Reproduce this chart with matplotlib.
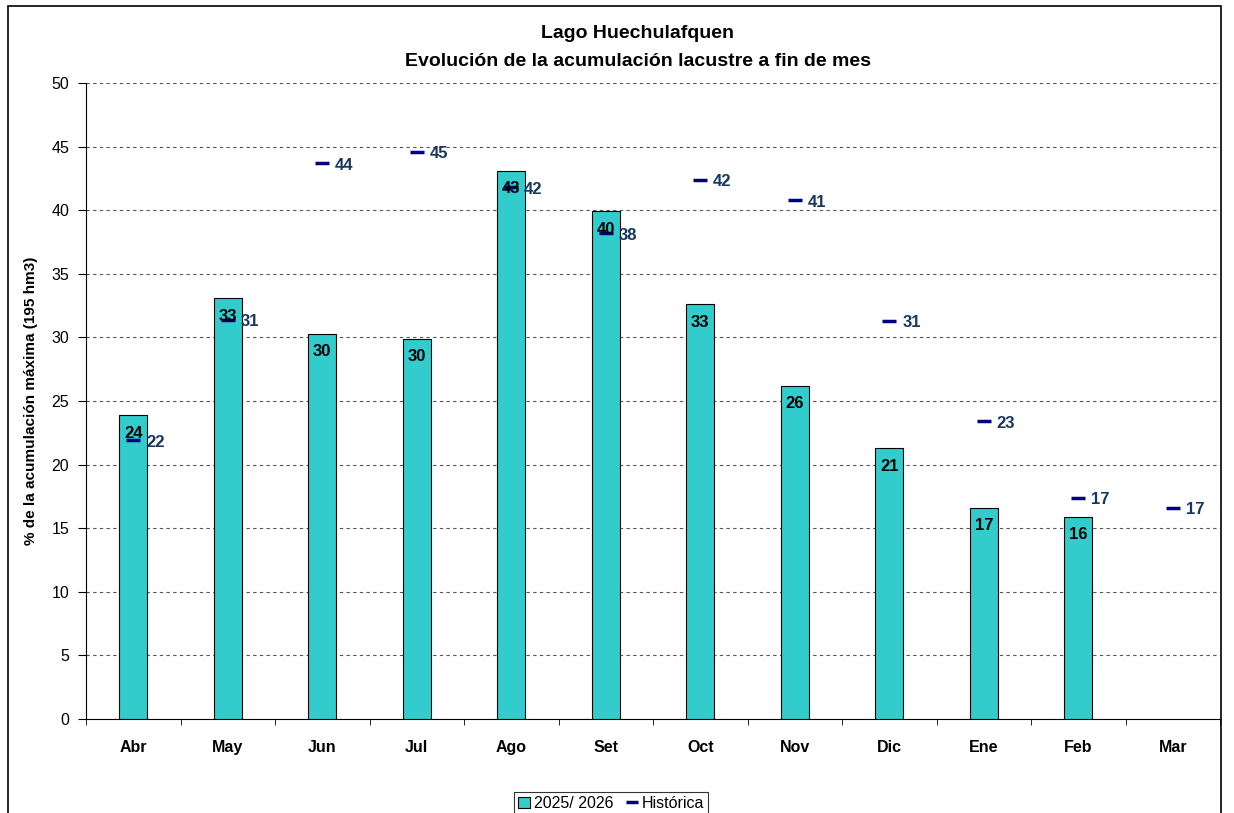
import numpy as np
import matplotlib
matplotlib.use('Agg')
import matplotlib.pyplot as plt
import matplotlib.patches as patches

# --- DADOS ---
meses = ['Abr', 'May', 'Jun', 'Jul', 'Ago', 'Set', 'Oct', 'Nov', 'Dic', 'Ene', 'Feb', 'Mar']
temporada = [23.9, 33.1, 30.3, 29.9, 43.1, 39.9, 32.6, 26.2, 21.3, 16.6, 15.9, None]
historica = [21.9, 31.4, 43.7, 44.6, 41.8, 38.2, 42.4, 40.8, 31.3, 23.4, 17.4, 16.6]

COR_BARRA = '#33CCCC'
COR_HIST = '#000080'
COR_TXT_HIST = '#17375E'

plt.rcParams['font.family'] = ['Liberation Sans', 'DejaVu Sans']

fig = plt.figure(figsize=(12.34, 8.13), dpi=100)
ax = fig.add_axes([86 / 1234, 1 - 719 / 813, (1220 - 86) / 1234, (719 - 83) / 813])

x = np.arange(len(meses))
vals_barras = np.array([v if v is not None else 0 for v in temporada])
mask = np.array([v is not None for v in temporada])

barras = ax.bar(x[mask], vals_barras[mask], width=0.3, color=COR_BARRA,
                edgecolor='black', linewidth=0.8, zorder=3, label='2025/ 2026')
linha_hist, = ax.plot(x, historica, linestyle='none', marker='_', markersize=10,
                      markeredgewidth=2.5, color=COR_HIST, zorder=4, label='Histórica')

# rótulos das barras
for xi, v in zip(x[mask], vals_barras[mask]):
    ax.annotate(f'{v:.0f}', (xi, v), xytext=(0, -13), textcoords='offset points',
                ha='center', va='center', fontsize=12, fontweight='bold',
                color='black', zorder=5)

# rótulos da histórica
for xi, v in zip(x, historica):
    ax.annotate(f'{v:.0f}', (xi, v), xytext=(16, -1.5), textcoords='offset points',
                ha='center', va='center', fontsize=12, fontweight='bold',
                color=COR_TXT_HIST, zorder=5)

ax.set_xlim(-0.5, len(meses) - 0.5)
ax.set_ylim(0, 50)
ax.set_yticks(np.arange(0, 51, 5))
ax.yaxis.grid(True, linestyle=(0, (3, 3)), color='#555555', linewidth=0.8, zorder=0)
ax.set_axisbelow(True)

ax.set_xticks(x)
ax.set_xticklabels(meses, fontweight='bold', fontsize=11.5)
ax.set_xticks(np.arange(-0.5, len(meses), 1), minor=True)
ax.tick_params(axis='x', which='major', length=0, pad=15)
ax.tick_params(axis='x', which='minor', length=4, direction='out')
ax.tick_params(axis='y', length=6, direction='out', labelsize=11.5, pad=6)

for s in ['top', 'right']:
    ax.spines[s].set_visible(False)

ax.set_ylabel('% de la acumulación máxima (195 hm3)', fontsize=11, fontweight='bold', labelpad=10)

fig.text(0.517, 1 - 34 / 813, 'Lago Huechulafquen', ha='center', va='center',
         fontsize=14, fontweight='bold')
fig.text(0.517, 1 - 61 / 813, 'Evolución de la acumulación lacustre a fin de mes',
         ha='center', va='center', fontsize=14, fontweight='bold')

leg = ax.legend([barras, linha_hist], ['2025/ 2026', 'Histórica'],
                loc='upper center', bbox_to_anchor=(611 / 1234, 1 - 784 / 813),
                bbox_transform=fig.transFigure, ncol=2, frameon=True, fancybox=False,
                fontsize=11.5, handlelength=0.8, handletextpad=0.2, columnspacing=0.8,
                borderpad=0.25, markerscale=0.8)
leg.get_frame().set_edgecolor('black')
leg.get_frame().set_linewidth(0.8)

# moldura externa
moldura = patches.Rectangle((8 / 1234, -0.05), (1221 - 8) / 1234, 1.05 - 6 / 813,
                            transform=fig.transFigure, fill=False, edgecolor='black',
                            linewidth=1.2, clip_on=False)
fig.patches.append(moldura)

fig.savefig('out.png', dpi=100)
